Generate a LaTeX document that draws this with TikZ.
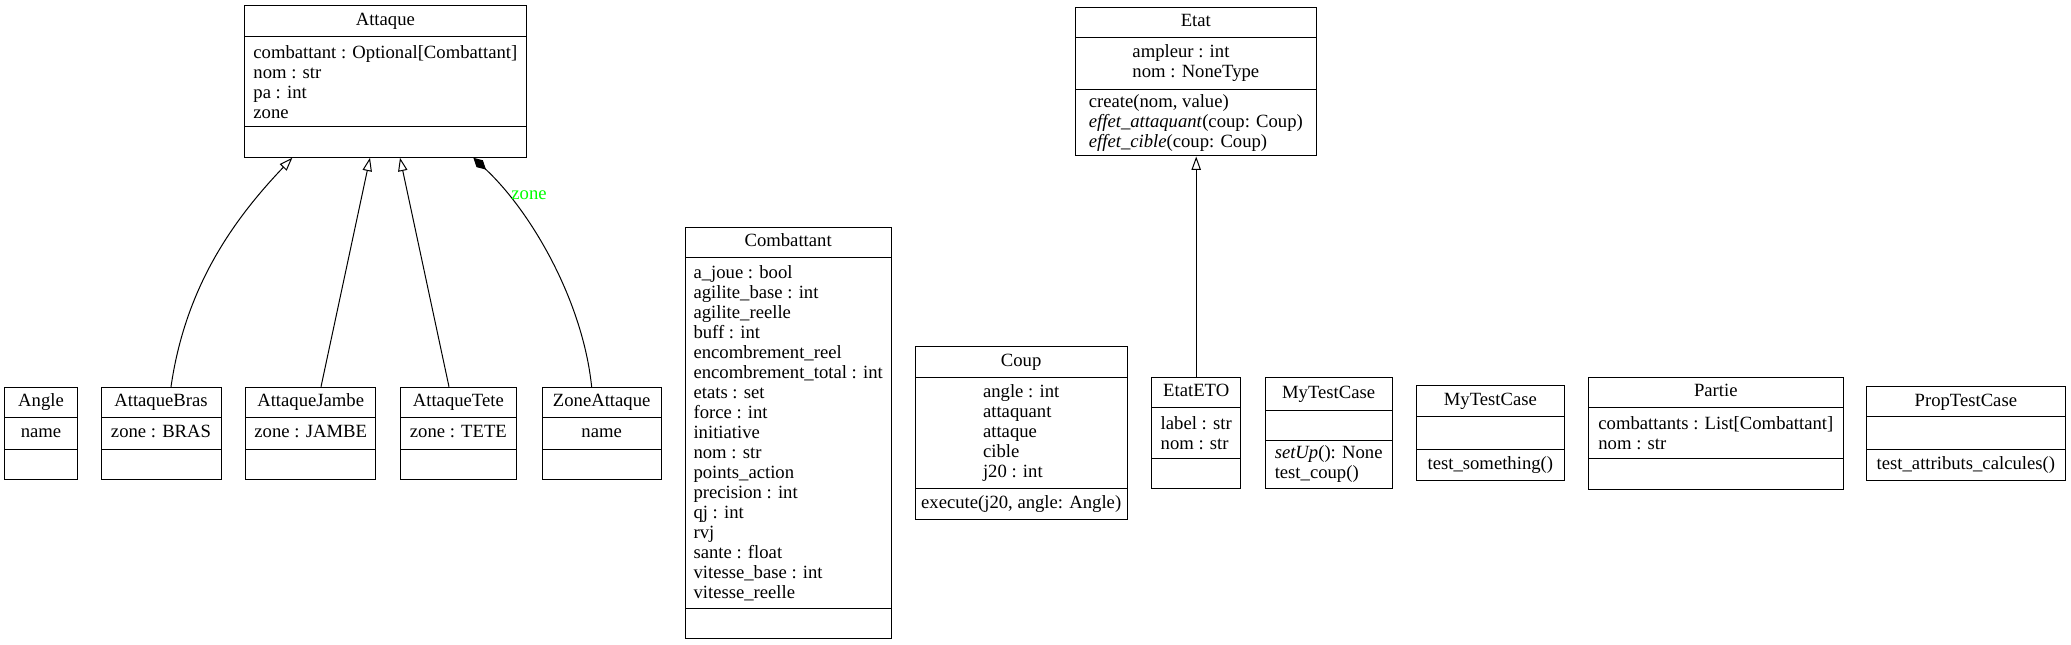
\documentclass[tikz,border=0pt]{standalone}
\usepackage{fontspec}
\setmainfont{Liberation Serif}
\usetikzlibrary{arrows.meta,calc,fit}
\definecolor{zonegreen}{RGB}{0,255,0}
\newcommand{\umlfont}{\fontsize{14}{15}\selectfont}

\begin{document}
\begin{tikzpicture}[x=0.75pt,y=-0.75pt,
        classbox/.style={draw, line width=0.75pt, inner sep=0pt},
        divider/.style={line width=0.75pt},
        classtitle/.style={font=\umlfont, inner sep=0pt, text height=9.6pt, text depth=3pt},
        classtext/.style={font=\umlfont, inner sep=0pt, align=left},
        inherit/.style={line width=0.75pt, -{Triangle[open, length=10pt, width=7pt]}},
        compose/.style={line width=0.75pt, -{Diamond[length=13pt, width=7pt]}}]
        \useasboundingbox (0,0) rectangle (2071,645);

        % Small classes of the first row
        \foreach \cname/\xa/\xb/\ctitle/\cattr in {angle/4.7/77.3/Angle/name,
                attaquebras/101/221/AttaqueBras/zone : BRAS,
                attaquejambe/245.7/375.7/AttaqueJambe/zone : JAMBE,
                attaquetete/400/516.7/AttaqueTete/zone : TETE,
                zoneattaque/542.3/661/ZoneAttaque/name} {
                \node[classbox, fit={(\xa,387.3) (\xb,479)}] (\cname) {};
                \draw[divider] (\xa,417.7) -- (\xb,417.7);
                \draw[divider] (\xa,449) -- (\xb,449);
                \node[classtitle] (\cname-title) at ({(\xa+\xb)/2},402.5) {\ctitle};
                \node[classtitle] (\cname-attrs) at ({(\xa+\xb)/2},433.35) {\cattr};
            }

        % Attaque
        \node[classbox, fit={(244,5.7) (526.7,157.3)}] (attaque) {};
        \draw[divider] (244,36.6) -- (526.7,36.6);
        \draw[divider] (244,126.7) -- (526.7,126.7);
        \node[classtitle] (attaque-title) at (385.35,21.15) {Attaque};
        \node[classtext] (attaque-attrs) at (385.35,81.65) {combattant : Optional[Combattant]\\nom : str\\pa : int\\zone};

        % Combattant
        \node[classbox, fit={(685,227.3) (891.3,638.3)}] (combattant) {};
        \draw[divider] (685,257.7) -- (891.3,257.7);
        \draw[divider] (685,608.3) -- (891.3,608.3);
        \node[classtitle] (combattant-title) at (788.15,242.5) {Combattant};
        \node[classtext] (combattant-attrs) at (788.15,433) {a\_joue : bool\\agilite\_base : int\\agilite\_reelle\\buff : int\\encombrement\_reel\\encombrement\_total : int\\etats : set\\force : int\\initiative\\nom : str\\points\_action\\precision : int\\qj : int\\rvj\\sante : float\\vitesse\_base : int\\vitesse\_reelle};

        % Coup
        \node[classbox, fit={(915,346.7) (1127.3,519)}] (coup) {};
        \draw[divider] (915,377.3) -- (1127.3,377.3);
        \draw[divider] (915,488.3) -- (1127.3,488.3);
        \node[classtitle] (coup-title) at (1021.15,362) {Coup};
        \node[classtext] (coup-attrs) at (1021.15,432.8) {angle : int\\attaquant\\attaque\\cible\\j20 : int};
        \node[classtitle] (coup-ops) at (1021.15,503.65) {execute(j20, angle: Angle)};

        % Etat
        \node[classbox, fit={(1075.7,7.3) (1316,156)}] (etat) {};
        \draw[divider] (1075.7,37.7) -- (1316,37.7);
        \draw[divider] (1075.7,89.3) -- (1316,89.3);
        \node[classtitle] (etat-title) at (1195.85,22.5) {Etat};
        \node[classtext] (etat-attrs) at (1195.85,63.5) {ampleur : int\\nom : NoneType};
        \node[classtext] (etat-ops) at (1195.85,122.65) {create(nom, value)\\\textit{effet\_attaquant}(coup: Coup)\\\textit{effet\_cible}(coup: Coup)};

        % EtatETO
        \node[classbox, fit={(1151.7,377.3) (1240.7,488.3)}] (etateto) {};
        \draw[divider] (1151.7,407.7) -- (1240.7,407.7);
        \draw[divider] (1151.7,458.3) -- (1240.7,458.3);
        \node[classtitle] (etateto-title) at (1196.2,392.5) {EtatETO};
        \node[classtext] (etateto-attrs) at (1196.2,433) {label : str\\nom : str};

        % MyTestCase (first)
        \node[classbox, fit={(1265,377.3) (1392.3,488.3)}] (mytestcasea) {};
        \draw[divider] (1265,410) -- (1392.3,410);
        \draw[divider] (1265,440.7) -- (1392.3,440.7);
        \node[classtitle] (mytestcasea-title) at (1328.65,393.65) {MyTestCase};
        \node[classtext] (mytestcasea-ops) at (1328.65,464.5) {\textit{setUp}(): None\\test\_coup()};

        % MyTestCase (second)
        \node[classbox, fit={(1416.7,385.7) (1564,480)}] (mytestcaseb) {};
        \draw[divider] (1416.7,416.7) -- (1564,416.7);
        \draw[divider] (1416.7,449.3) -- (1564,449.3);
        \node[classtitle] (mytestcaseb-title) at (1490.35,401.2) {MyTestCase};
        \node[classtitle] (mytestcaseb-ops) at (1490.35,464.65) {test\_something()};

        % Partie
        \node[classbox, fit={(1588.3,377.3) (1843.3,489)}] (partie) {};
        \draw[divider] (1588.3,407.7) -- (1843.3,407.7);
        \draw[divider] (1588.3,458.3) -- (1843.3,458.3);
        \node[classtitle] (partie-title) at (1715.8,392.5) {Partie};
        \node[classtext] (partie-attrs) at (1715.8,433) {combattants : List[Combattant]\\nom : str};

        % PropTestCase
        \node[classbox, fit={(1866.7,386.7) (2065,480)}] (proptestcase) {};
        \draw[divider] (1866.7,416.7) -- (2065,416.7);
        \draw[divider] (1866.7,449.3) -- (2065,449.3);
        \node[classtitle] (proptestcase-title) at (1965.85,401.7) {PropTestCase};
        \node[classtitle] (proptestcase-ops) at (1965.85,464.65) {test\_attributs\_calcules()};

        % Inheritance and composition
        \draw[inherit] ($(attaquebras.north)+(10,0)$) .. controls +(14,-97) and +(-62,65) .. ($(attaque.south)+(-93,0)$);
        \draw[inherit] ($(attaquejambe.north)+(10.3,0)$) -- ($(attaque.south)+(-15.35,0)$);
        \draw[inherit] ($(attaquetete.north)+(-9.35,0)$) -- ($(attaque.south)+(14.65,0)$);
        \draw[compose] ($(zoneattaque.north)+(-10,0)$) .. controls +(-9,-87) and +(57,53) .. ($(attaque.south)+(88,0)$);
        \node[font=\umlfont, text=zonegreen, inner sep=0pt] (zone-label) at (529,195) {zone};
        \draw[inherit] (etateto.north) -- (etateto.north |- etat.south);
    \end{tikzpicture}
\end{document}
